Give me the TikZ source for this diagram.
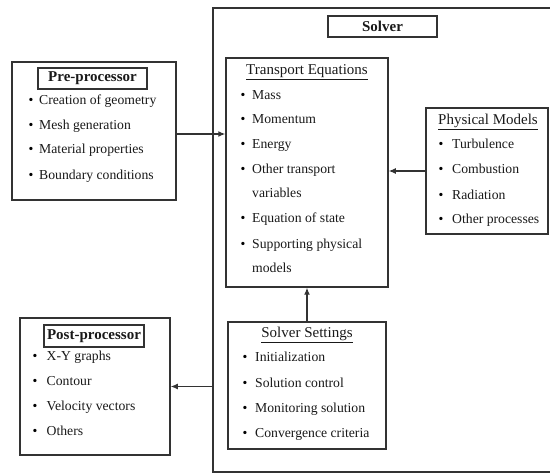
\documentclass[tikz,border=0pt]{standalone}
\usepackage{fontspec}
\setmainfont{Liberation Serif}
\usetikzlibrary{arrows.meta}
\newcommand\dgitemfont{\fontsize{13.7}{16}\selectfont}
\newcommand\dgtitlefont{\fontsize{15}{18}\selectfont}
\begin{document}
\begin{tikzpicture}[x=1pt,y=-1pt,
  frame/.style={draw=black!80, line width=1.5pt, inner sep=0pt},
  titlebox/.style={draw=black!80, line width=1.8pt, inner sep=0pt, font=\dgtitlefont\bfseries, text=black!90},
  heading/.style={anchor=base, inner sep=0pt, font=\dgtitlefont, text=black!90},
  item/.style={anchor=mid west, inner sep=0pt, font=\dgitemfont, text=black!90},
  bul/.style={anchor=mid, inner sep=0pt, font=\dgitemfont},
  arr/.style={draw=black!80, line width=1.2pt, -{Latex[length=7pt,width=6pt]}}]
\clip (0,0) rectangle (550,473);

% solver frame and its title
\node[frame, minimum width=387pt, minimum height=464pt] (solver) at (406.5,240) {};
\node[titlebox, minimum width=109pt, minimum height=21pt] (solvertitle) at (382.5,26.5) {Solver};

% pre-processor
\node[frame, minimum width=164pt, minimum height=138pt] (pre) at (94,131) {};
\node[titlebox, minimum width=109pt, minimum height=21pt] (pretitle) at (92.5,78.5) {Pre-processor};
\foreach \t/\y [count=\i] in {Creation of geometry/102, Mesh generation/127, Material properties/151, Boundary conditions/177}{
  \node[bul] (preb\i) at (31,\y) {\textbullet};
  \node[item] (prei\i) at (39,\y) {\t};
}

% transport equations
\node[frame, minimum width=162pt, minimum height=229pt] (te) at (307,172.5) {};
\node[heading] (tetitle) at (307,75) {\underline{Transport Equations}};
\foreach \t/\y [count=\i] in {Mass/97, Momentum/121, Energy/146, Other transport/171, Equation of state/220, Supporting physical/246}{
  \node[bul] (teb\i) at (243,\y) {\textbullet};
  \node[item] (tei\i) at (252,\y) {\t};
}
\node[item] (tec1) at (252,195) {variables};
\node[item] (tec2) at (252,270) {models};

% physical models
\node[frame, minimum width=122pt, minimum height=126pt] (pm) at (487,171) {};
\node[heading] (pmtitle) at (488,125) {\underline{Physical Models}};
\foreach \t/\y [count=\i] in {Turbulence/146, Combustion/171, Radiation/197, Other processes/221}{
  \node[bul] (pmb\i) at (441,\y) {\textbullet};
  \node[item] (pmi\i) at (452,\y) {\t};
}

% solver settings
\node[frame, minimum width=158pt, minimum height=127pt] (ss) at (307,385.5) {};
\node[heading] (sstitle) at (307,338) {\underline{Solver Settings}};
\foreach \t/\y [count=\i] in {Initialization/359, Solution control/385, Monitoring solution/410, Convergence criteria/435}{
  \node[bul] (ssb\i) at (245,\y) {\textbullet};
  \node[item] (ssi\i) at (255,\y) {\t};
}

% post-processor
\node[frame, minimum width=150pt, minimum height=137pt] (post) at (95,386.5) {};
\node[titlebox, minimum width=100pt, minimum height=22pt] (posttitle) at (94,336) {Post-processor};
\foreach \t/\y [count=\i] in {X-Y graphs/358, Contour/383, Velocity vectors/408, Others/433}{
  \node[bul] (postb\i) at (35,\y) {\textbullet};
  \node[item] (posti\i) at (46.5,\y) {\t};
}

% connectors
\draw[arr] ([yshift=-3pt]pre.east) -- ([yshift=-3pt]pre.east -| te.west);
\draw[arr] (pm.west) -- (pm.west -| te.east);
\draw[arr] (ss.north) -- (te.south);
\draw[arr] (solver.west |- post.east) -- (post.east);
\end{tikzpicture}
\end{document}
